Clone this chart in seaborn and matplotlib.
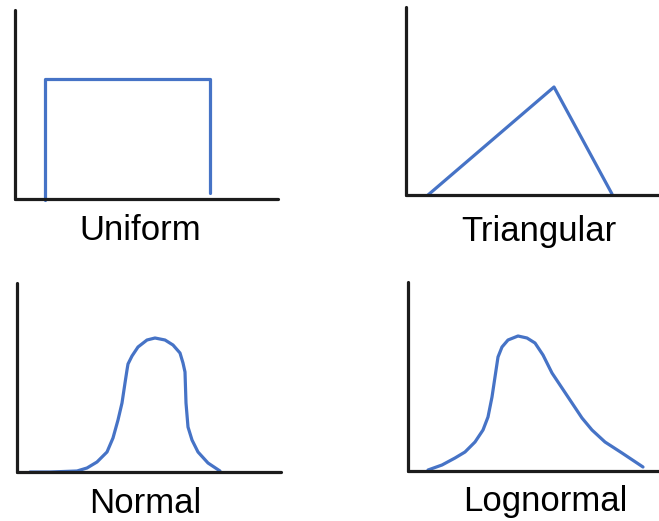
import matplotlib
matplotlib.use("Agg")
import matplotlib.pyplot as plt
import seaborn as sns
import pandas as pd

sns.set_theme(style="white")
plt.rcParams["font.family"] = ["Liberation Sans", "DejaVu Sans"]

W, H = 659, 521
BLUE = "#4673c6"
INK = "#1c1c1c"

# Sketched density shapes (x along the axis, height above it)
uniform_x = [30, 30, 195, 195]
uniform_y = [-1, 120, 120, 6]

triangular_x = [22, 148, 206]
triangular_y = [0, 108, 1]

normal_x = [13, 33, 60, 70, 80, 90, 96, 101, 105, 108, 110, 111, 115, 121,
            130, 138, 148, 156, 163, 166, 168, 169, 171, 175, 181, 191, 203]
normal_y = [0, 0, 1, 4, 10, 20, 34, 52, 69, 89, 102, 108, 116, 125,
            132, 134, 132, 127, 119, 109, 100, 69, 45, 32, 20, 9, 1]

lognormal_x = [20, 34, 47, 57, 67, 75, 80, 84, 87, 90, 94, 100, 110, 119,
               127, 135, 144, 154, 164, 174, 184, 197, 214, 235]
lognormal_y = [1, 6, 13, 19, 29, 41, 54, 74, 94, 114, 124, 131, 135, 133,
               128, 116, 98, 83, 68, 53, 41, 29, 18, 4]

labels = ["Uniform", "Triangular", "Normal", "Lognormal"]

# Panel frames in pixels: left, bottom (from top), width, height
frames = [
    (15, 199, 263, 189),
    (406, 195, 253, 188),
    (17, 472, 264, 189),
    (408, 471, 251, 189),
]
# Label anchors in pixels: centre x, baseline y (from top)
label_pos = [(140.5, 240), (538.5, 240.5), (145.5, 513), (545, 511)]

series = [
    (uniform_x, uniform_y),
    (triangular_x, triangular_y),
    (normal_x, normal_y),
    (lognormal_x, lognormal_y),
]

fig = plt.figure(figsize=(W / 100, H / 100), dpi=100)
fig.patch.set_facecolor("white")

for (xs, ys), (l, b, w, h), name, (tx, ty) in zip(series, frames, labels, label_pos):
    ax = fig.add_axes([l / W, (H - b) / H, w / W, h / H])
    df = pd.DataFrame({"x": xs, "density": ys})
    line = sns.lineplot(data=df, x="x", y="density", sort=False, estimator=None,
                        color=BLUE, linewidth=2.3, ax=ax, clip_on=False)
    for ln in ax.lines:
        ln.set_solid_joinstyle("round")
        ln.set_solid_capstyle("round")
    ax.set_xlim(0, w)
    ax.set_ylim(0, h)
    ax.set_facecolor("none")
    for side in ("top", "right"):
        ax.spines[side].set_visible(False)
    for side in ("left", "bottom"):
        ax.spines[side].set_visible(True)
        ax.spines[side].set_color(INK)
        ax.spines[side].set_linewidth(2.3)
        ax.spines[side].set_capstyle("round")
    ax.set_xticks([])
    ax.set_yticks([])
    ax.set_xlabel("")
    ax.set_ylabel("")
    fig.text(tx / W, (H - ty) / H, name, ha="center", va="baseline",
             fontsize=25, color="black")

fig.savefig("out.png", dpi=100, facecolor="white")
